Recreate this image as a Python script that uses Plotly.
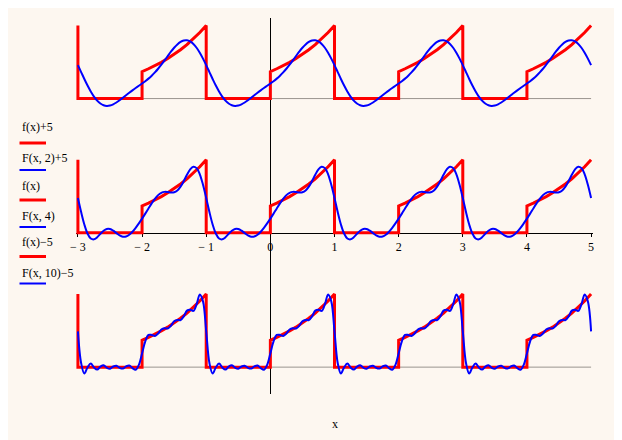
#Stacked plot of a periodic function f(x) and its Fourier partial sums F(x, n)
import numpy as np
import plotly.graph_objects as go

#Vertical offsets of the three pairs (top, middle, bottom)
offsets = [5, 0, -5]

#f(x) read on its rising half period, x = 0 ... 1 (step 0.1); f = 0 on the other half
f_rise = [1.00, 1.11, 1.22, 1.35, 1.49, 1.65, 1.82, 2.01, 2.23, 2.46, 2.72]

#Partial sums read over one period, x = 0 ... 1.95 (step 0.05)
F2_vals = [0.560, 0.647, 0.743, 0.851, 0.974, 1.110, 1.261, 1.421, 1.584, 1.744,
           1.891, 2.016, 2.109, 2.163, 2.170, 2.128, 2.034, 1.893, 1.708, 1.488,
           1.244, 0.987, 0.730, 0.485, 0.264, 0.074, -0.076, -0.184, -0.248, -0.272,
           -0.258, -0.214, -0.146, -0.063, 0.029, 0.124, 0.217, 0.307, 0.393, 0.476]
F4_vals = [0.529, 0.716, 0.909, 1.098, 1.269, 1.405, 1.492, 1.526, 1.521, 1.504,
           1.512, 1.579, 1.721, 1.928, 2.163, 2.363, 2.464, 2.410, 2.180, 1.791,
           1.296, 0.775, 0.313, -0.026, -0.209, -0.242, -0.165, -0.038, 0.080, 0.146,
           0.143, 0.082, -0.009, -0.094, -0.141, -0.133, -0.070, 0.041, 0.185, 0.351]
F10_vals = [0.511, 0.959, 1.199, 1.201, 1.162, 1.253, 1.401, 1.448, 1.440, 1.541,
            1.707, 1.759, 1.753, 1.892, 2.104, 2.135, 2.093, 2.340, 2.705, 2.449,
            1.332, 0.154, -0.241, -0.010, 0.132, -0.011, -0.091, 0.018, 0.071, -0.022,
            -0.059, 0.024, 0.054, -0.026, -0.053, 0.028, 0.062, -0.035, -0.097, 0.086]

tick_vals = [-3, -2, -1, 0, 1, 2, 3, 4, 5]
tick_text = ["\u2212 3", "\u2212 2", "\u2212 1", "0", "1", "2", "3", "4", "5"]

labels = ["f(x)+5", "F(x, 2)+5", "f(x)", "F(x, 4)", "f(x)\u22125", "F(x, 10)\u22125"]
colors = ["#ff0000", "#0000ff"] * 3

X_MIN, X_MAX = -3, 5

#Repeat one period of read values across the plotted x range
def repeat_period(x_rel, y_rel, starts):
    xs, ys = [], []
    for p in starts:
        for x, y in zip(x_rel, y_rel):
            xv = round(p + x, 4)
            if X_MIN <= xv <= X_MAX:
                xs.append(xv)
                ys.append(y)
    return np.array(xs), np.array(ys)

#f(x): zero on [p, p+1], jump, then the rising part on [p+1, p+2]
f_x_rel = [0.0, 1.0] + [round(1 + 0.1 * i, 2) for i in range(len(f_rise))]
f_y_rel = [0.0, 0.0] + f_rise
f_x, f_y = repeat_period(f_x_rel, f_y_rel, [-5, -3, -1, 1, 3])

F_x_rel = [round(0.05 * j, 2) for j in range(len(F2_vals))]
F_starts = [-4, -2, 0, 2, 4]

fig = go.Figure()

series = [(f_x, f_y)]
for vals in [F2_vals, F4_vals, F10_vals]:
    series.append(repeat_period(F_x_rel, vals, F_starts))

#Pairs: (f, F2), (f, F4), (f, F10)
for i, off in enumerate(offsets):
    fx, fy = series[0]
    Fx, Fy = series[i + 1]
    fig.add_trace(go.Scatter(x=fx, y=fy + off, mode='lines', name=labels[2 * i],
                             line=dict(color=colors[2 * i], width=3)))
    fig.add_trace(go.Scatter(x=Fx, y=Fy + off, mode='lines', name=labels[2 * i + 1],
                             line=dict(color=colors[2 * i + 1], width=2, shape='spline')))

#Gray marker lines at the shifted baselines
for off in offsets:
    if off != 0:
        fig.add_shape(type='line', x0=X_MIN, x1=X_MAX, y0=off, y1=off, layer='below',
                      line=dict(color='#9a948e', width=1))

#Page has an 8 px body margin, so the figure is a bit smaller than the window
PAGE = 8
W, H = 622 - PAGE, 440 - PAGE
L, R, T, B = 68, 29, 10, 46

#Window pixel -> paper coordinates (for the hand-made legend)
def px_x(v):
    return (v - PAGE - L) / (W - L - R)
def px_y(v):
    return (H - B - (v - PAGE)) / (H - T - B)

text_y = [127.5, 158, 186, 215.5, 242.5, 272.5]
line_y = [143, 170, 200, 227, 256.5, 283.5]
for lab, col, ty, ly in zip(labels, colors, text_y, line_y):
    fig.add_annotation(text=lab, xref='paper', yref='paper', x=px_x(20), y=px_y(ty),
                       xanchor='left', yanchor='middle', showarrow=False,
                       font=dict(family='Liberation Serif', size=12, color='black'))
    fig.add_shape(type='line', xref='paper', yref='paper', x0=px_x(19.5), x1=px_x(46),
                  y0=px_y(ly), y1=px_y(ly), line=dict(color=col, width=3 if col == '#ff0000' else 2))

fig.add_annotation(text='x', xref='paper', yref='paper', x=px_x(335), y=px_y(424),
                   xanchor='center', yanchor='middle', showarrow=False,
                   font=dict(family='Liberation Serif', size=12, color='black'))

fig.update_layout(
    width=W, height=H,
    margin=dict(l=L, r=R, t=T, b=B),
    paper_bgcolor='#fdf7f0',
    plot_bgcolor='#fdf7f0',
    showlegend=False,
    xaxis=dict(range=[-3.03, 5.03], anchor='free', position=6 / 14,
               showline=True, linecolor='black', linewidth=1,
               ticks='outside', ticklen=3, tickcolor='black',
               tickvals=tick_vals, ticktext=tick_text,
               tickfont=dict(family='Liberation Serif', size=12, color='black'),
               showgrid=False, zeroline=True, zerolinecolor='black', zerolinewidth=1,
               layer='below traces'),
    yaxis=dict(range=[-6, 8], showgrid=False, zeroline=False, showline=False,
               showticklabels=False, ticks=''))

fig.write_html("out.html")
